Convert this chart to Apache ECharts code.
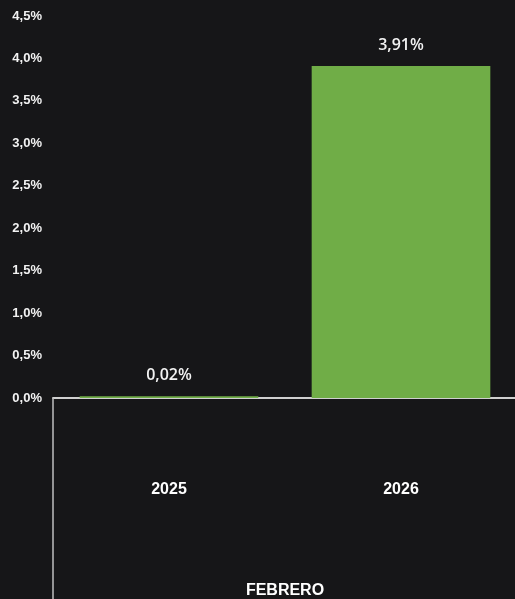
<!DOCTYPE html>
<html><head><meta charset="utf-8">
<script src="https://cdn.jsdelivr.net/npm/echarts@6/dist/echarts.min.js"></script>
<style>html,body{margin:0;padding:0;background:#161618}#c{width:515px;height:599px}</style>
</head><body><div id="c"></div>
<script>
const years = ['2025', '2026'];
const months = ['FEBRERO'];
const values = [0.02, 3.91];
const yTicks = [0, 0.5, 1, 1.5, 2, 2.5, 3, 3.5, 4, 4.5];

const fmt = v => v.toFixed(1).replace('.', ',') + '%';
const chart = echarts.init(document.getElementById('c'), null, {renderer: 'canvas'});
chart.setOption({
  backgroundColor: '#161618',
  animation: false,
  grid: {left: 53, right: -2, top: 16, bottom: 201, containLabel: false, outerBoundsMode: 'none'},
  xAxis: [{
    type: 'category', data: years, position: 'bottom',
    axisLine: {show: true, lineStyle: {color: '#d0d0d0', width: 2}},
    axisTick: {show: false},
    axisLabel: {color: '#ffffff', fontFamily: 'Liberation Sans, Arial', fontWeight: 'bold', fontSize: 16, margin: 84}
  }, {
    type: 'category', data: months, position: 'bottom',
    axisLine: {show: false},
    axisTick: {show: true, length: 204, lineStyle: {color: '#bfbfbf', width: 1.5}},
    axisLabel: {color: '#ffffff', fontFamily: 'Liberation Sans, Arial', fontWeight: 'bold', fontSize: 16, margin: 185}
  }],
  yAxis: {
    type: 'value', min: 0, max: yTicks[yTicks.length - 1], interval: 0.5,
    axisLine: {show: false}, axisTick: {show: false}, splitLine: {show: false},
    axisLabel: {color: '#f2f2f2', fontFamily: 'Liberation Sans, Arial', fontWeight: 'bold', fontSize: 13, margin: 11, formatter: fmt}
  },
  series: [{
    type: 'bar', data: values, barCategoryGap: '23%',
    itemStyle: {color: '#70ad47'},
    label: {show: true, position: 'top', distance: 13, color: '#f2f2f2', fontFamily: 'Open Sans', fontWeight: 600, fontSize: 16,
      formatter: p => p.value.toFixed(2).replace('.', ',') + '%'}
  }]
});
</script></body></html>
